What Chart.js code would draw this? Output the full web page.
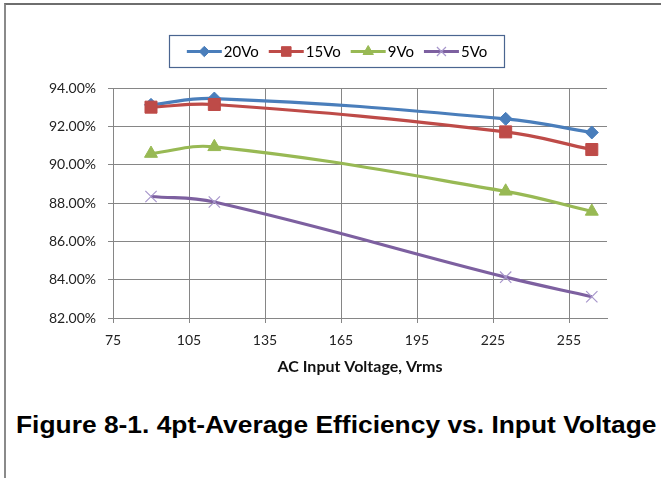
<!DOCTYPE html>
<html>
<head>
<meta charset="utf-8">
<title>4pt-Average Efficiency vs. Input Voltage</title>
<script src="https://cdn.jsdelivr.net/npm/chart.js@4.4.1/dist/chart.umd.min.js"></script>
<style>
    html, body { margin: 0; padding: 0; background: #fff; }
    #page { position: relative; width: 661px; height: 478px; overflow: hidden; }
    #frame {
        position: absolute; left: 4px; top: 3px; width: 680px; height: 480px;
        border-top: 2px solid #6e6e6e; border-left: 2px solid #8a8a8a;
    }
    #chartBox { position: absolute; left: 0; top: 0; width: 661px; height: 380px; }
    #caption {
        position: absolute; left: 16px; top: 411px; white-space: nowrap;
        font: bold 23px "Liberation Sans", Arial, sans-serif; line-height: 28px; color: #000;
        transform-origin: 0 50%;
    }
</style>
</head>
<body>
<div id="page">
    <div id="frame"></div>
    <div id="chartBox"><canvas id="EffChart"></canvas></div>
    <div id="caption">Figure 8-1. 4pt-Average Efficiency vs. Input Voltage</div>
</div>
<script>
    // input voltage test points (Vrms) and measured average efficiency (%)
    var voltages = [90, 115, 230, 264];
    var eff20Vo  = [93.12, 93.45, 92.39, 91.68];
    var eff15Vo  = [93.00, 93.14, 91.71, 90.79];
    var eff9Vo   = [90.58, 90.93, 88.61, 87.56];
    var eff5Vo   = [88.34, 88.05, 84.13, 83.11];

    var seriesNames = ['20Vo', '15Vo', '9Vo', '5Vo'];
    var xTicks = [75, 105, 135, 165, 195, 225, 255];
    var xRange = [75, 270];
    var yRange = [82, 94];

    var labelFont = {family: 'Lato, "Open Sans", sans-serif', size: 14};
    var gridColor = '#868686';

    function points(values) {
        return values.map(function(v, i){ return {x: voltages[i], y: v}; });
    }

    function series(name, values, color, style, radius, order, markerColor, markerWidth) {
        return {
            label: name,
            data: points(values),
            order: order,
            borderColor: color,
            backgroundColor: markerColor || color,
            borderWidth: 3.2,
            tension: 0.4,
            pointStyle: style,
            pointRadius: radius,
            pointHoverRadius: radius,
            pointBackgroundColor: markerColor || color,
            pointBorderColor: markerColor || color,
            pointBorderWidth: markerWidth || 1
        };
    }

    // boxed legend across the top: line sample with marker, then the name
    var boxLegend = {
        id: 'boxLegend',
        afterDraw: function(chart) {
            var ctx = chart.ctx;
            var box = {x: 169.5, y: 35.5, w: 335, h: 32};
            ctx.save();
            ctx.strokeStyle = '#4a6590';
            ctx.lineWidth = 1.2;
            ctx.strokeRect(box.x, box.y, box.w, box.h);

            ctx.font = '15px ' + labelFont.family;
            ctx.textBaseline = 'middle';
            var lineLen = 35, gapText = 2, gapItem = 10;
            var total = 0;
            chart.data.datasets.forEach(function(ds){
                total += lineLen + gapText + ctx.measureText(ds.label).width + gapItem;
            });
            total -= gapItem;
            var x = box.x + (box.w - total) / 2;
            var cy = box.y + box.h / 2;
            chart.data.datasets.forEach(function(ds){
                ctx.strokeStyle = ds.borderColor;
                ctx.lineWidth = 3;
                ctx.beginPath();
                ctx.moveTo(x, cy);
                ctx.lineTo(x + lineLen, cy);
                ctx.stroke();
                ctx.fillStyle = ds.pointBackgroundColor;
                ctx.strokeStyle = ds.pointBorderColor;
                ctx.lineWidth = ds.pointBorderWidth;
                Chart.helpers.drawPoint(ctx, {pointStyle: ds.pointStyle, radius: ds.pointRadius * 0.8, rotation: 0, borderWidth: ds.pointBorderWidth}, x + lineLen / 2, cy);
                x += lineLen + gapText;
                ctx.fillStyle = '#000';
                ctx.fillText(ds.label, x, cy + 1);
                x += ctx.measureText(ds.label).width + gapItem;
            });
            ctx.restore();
        }
    };

    var ctx = document.getElementById('EffChart');
    new Chart(ctx, {
        type: 'line',
        data: {
            datasets: [
                series(seriesNames[0], eff20Vo, '#4a7ebb', 'rectRot', 6.5, 4),
                series(seriesNames[1], eff15Vo, '#be4b48', 'rect', 8.5, 3),
                series(seriesNames[2], eff9Vo, '#98b954', 'triangle', 7.5, 2),
                series(seriesNames[3], eff5Vo, '#7d60a0', 'crossRot', 8, 1, '#a897cc', 1.2)
            ]
        },
        plugins: [boxLegend],
        options: {
            responsive: true,
            maintainAspectRatio: false,
            animation: false,
            layout: { padding: {top: 88, right: 54, bottom: 0, left: 0} },
            plugins: {
                legend: {display: false},
                tooltip: {enabled: false}
            },
            scales: {
                x: {
                    type: 'linear',
                    min: xRange[0],
                    max: xRange[1],
                    afterFit: function(scale){ scale.height = 62; },
                    afterBuildTicks: function(scale){
                        scale.ticks = xTicks.map(function(v){ return {value: v}; });
                    },
                    grid: {color: gridColor, lineWidth: 1, tickLength: 5, tickColor: gridColor},
                    border: {color: gridColor, width: 1},
                    ticks: {
                        padding: 9,
                        color: '#222',
                        font: labelFont,
                        maxRotation: 0,
                        autoSkip: false
                    },
                    title: {
                        display: true,
                        text: 'AC Input Voltage, Vrms',
                        color: '#111',
                        font: {family: labelFont.family, size: 16, weight: 'bold'},
                        padding: {top: 0, bottom: 4}
                    }
                },
                y: {
                    min: yRange[0],
                    max: yRange[1],
                    afterFit: function(scale){ scale.width = 113; },
                    grid: {color: gridColor, lineWidth: 1, tickLength: 5, tickColor: gridColor},
                    border: {color: gridColor, width: 1},
                    ticks: {
                        stepSize: 2,
                        padding: 12,
                        color: '#222',
                        font: labelFont,
                        callback: function(v){ return v.toFixed(2) + '%'; }
                    }
                }
            }
        }
    });

    // stretch the caption to its full printed width
    var cap = document.getElementById('caption');
    cap.style.transform = 'scaleX(' + (641 / cap.offsetWidth) + ')';
</script>
</body>
</html>
